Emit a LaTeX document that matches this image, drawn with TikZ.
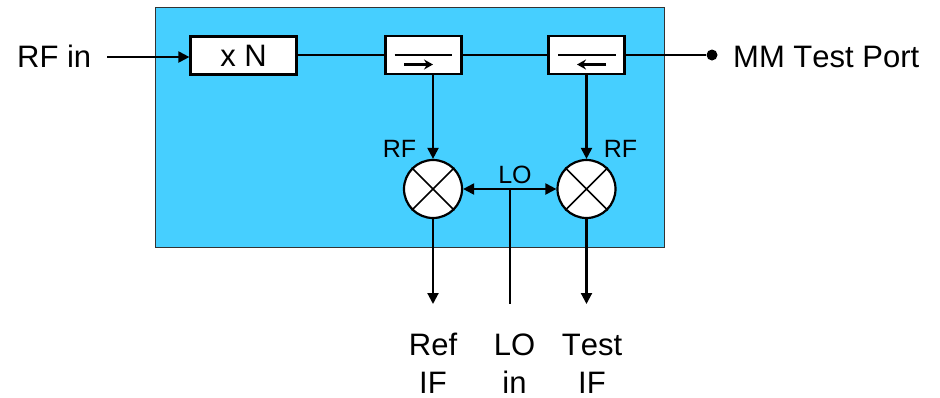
\documentclass[tikz,border=0pt]{standalone}
\usepackage{fontspec}
\setmainfont[Kerning=Off]{Liberation Sans}
\usetikzlibrary{arrows.meta}
\tikzset{
 wire/.style={draw=black,line width=2.1pt},
 arr/.style={wire,-{Triangle[length=11pt,width=11pt]}},
 arrs/.style={wire,{Triangle[length=11pt,width=11pt]}-{Triangle[length=11pt,width=11pt]}},
 blockbox/.style={draw=black,fill=white,line width=2.2pt,minimum height=38pt,inner sep=0pt},
 mixer/.style={circle,draw=black,fill=white,line width=2.2pt,minimum size=58pt,inner sep=0pt},
 big/.style={font=\fontsize{31}{36}\selectfont,inner sep=0pt,text=black},
 small/.style={font=\fontsize{25}{30}\selectfont,inner sep=0pt,text=black},
}
\begin{document}
\begin{tikzpicture}[x=1pt,y=-1pt]
\useasboundingbox (0,0) rectangle (940,397);
\node[draw=black!80,line width=1pt,fill={rgb,255:red,70;green,207;blue,255},minimum width=509pt,minimum height=240pt,inner sep=0pt,anchor=north west] (panel) at (154.5,6.5) {};
\node[blockbox,minimum width=106pt,big] (mult) at (243.5,55.5) {\raisebox{-2pt}{x N}};
\node[blockbox,minimum width=76pt] (isoa) at (423.5,55) {};
\node[blockbox,minimum width=76pt] (isob) at (586.5,55) {};
\node[mixer] (mixa) at (433,189) {};
\node[mixer] (mixb) at (586.5,189) {};
\draw[line width=1.6pt] (mixa.45) -- (mixa.225) (mixa.135) -- (mixa.315);
\draw[line width=1.6pt] (mixb.45) -- (mixb.225) (mixb.135) -- (mixb.315);
% isolator glyphs
\coordinate (a1) at (394.5,55); \coordinate (a2) at (452,55);
\coordinate (a3) at (404,64.5); \coordinate (a4) at (433,64.5);
\coordinate (b1) at (558,55); \coordinate (b2) at (615.5,55);
\coordinate (b3) at (606,64.5); \coordinate (b4) at (577,64.5);
\draw[line width=1.5pt] (a1) -- (a2) (b1) -- (b2);
\draw[line width=2.2pt,-{Stealth[length=9pt,width=10pt,inset=3pt]}] (a3) -- (a4);
\draw[line width=2.2pt,-{Stealth[length=9pt,width=10pt,inset=3pt]}] (b3) -- (b4);
% connectors
\coordinate (rfstart) at (107,57);
\draw[arr] (rfstart) -- (rfstart -| mult.west);
\draw[wire] (mult.east |- isoa.west) -- (isoa.west);
\draw[wire] (isoa.east) -- (isob.west);
\node[circle,fill=black,minimum size=11pt,inner sep=0pt] (port) at (712,55) {};
\draw[wire] (isob.east) -- (port);
\draw[arr] (mixa.north |- isoa.south) -- (mixa.north);
\draw[arr] (mixb.north |- isob.south) -- (mixb.north);
\draw[arrs] (mixa.east) -- (mixb.west);
\coordinate (lotap) at (510,189);
\coordinate (loend) at (510,304);
\draw[wire] (lotap) -- (loend);
\coordinate (refend) at (433,304);
\coordinate (testend) at (586.5,304);
\draw[arr] (mixa.south) -- (refend);
\draw[arr] (mixb.south) -- (testend);
% labels
\node[big,anchor=base west] (rfin) at (17,67.5) {RF in};
\node[big,anchor=base west] (mmport) at (733,67.5) {MM Test Port};
\node[small,anchor=base] (rfa) at (399.5,157.5) {RF};
\node[small,anchor=base] (rfb) at (620.5,157.5) {RF};
\node[small,anchor=base] (lolab) at (515,183) {LO};
\node[big,anchor=base] (refa) at (433,355) {Ref};
\node[big,anchor=base] (refb) at (433,393.5) {IF};
\node[big,anchor=base] (lia) at (514.5,355) {LO};
\node[big,anchor=base] (lib) at (514.5,393.5) {in};
\node[big,anchor=base] (tea) at (592,355) {Test};
\node[big,anchor=base] (teb) at (592,393.5) {IF};
\end{tikzpicture}
\end{document}
